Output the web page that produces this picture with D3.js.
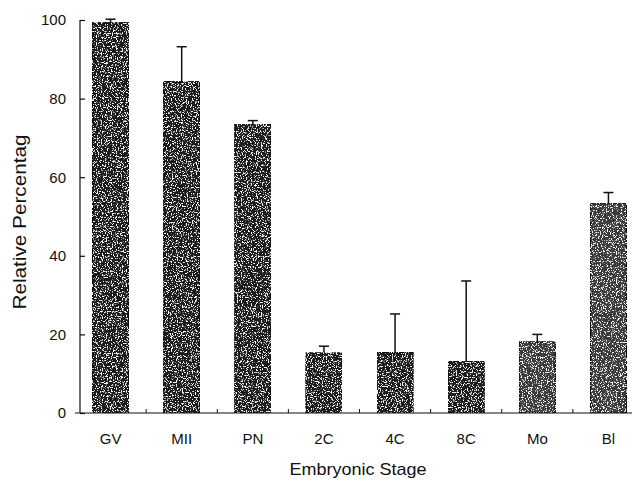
<!doctype html>
<html>
<head>
<meta charset="utf-8">
<script src="https://cdn.jsdelivr.net/npm/d3@7/dist/d3.min.js"></script>
<style>
body { margin: 0; background: #fff; }
text { font-family: "Liberation Sans", Arial, sans-serif; fill: #111; }
</style>
</head>
<body>
<script>
// values
var stages = ["GV", "MII", "PN", "2C", "4C", "8C", "Mo", "Bl"];
var means  = [99.3, 84.3, 73.5, 15.3, 15.4, 13.1, 18.1, 53.4];
var errs   = [0.9, 8.9, 0.9, 1.7, 9.8, 20.5, 1.9, 2.7];
var yTicks = [0, 20, 40, 60, 80, 100];

var width = 638, height = 482;

var svg = d3.select("body").append("svg")
    .attr("width", width)
    .attr("height", height);

// speckled print texture for the bars
var defs = svg.append("defs");
var f = defs.append("filter").attr("id", "speck")
    .attr("x", 0).attr("y", 0).attr("width", 1).attr("height", 1);
f.append("feTurbulence").attr("type", "fractalNoise")
    .attr("baseFrequency", 0.8).attr("numOctaves", 2).attr("seed", 3)
    .attr("result", "noise");
f.append("feColorMatrix").attr("in", "noise").attr("type", "matrix")
    .attr("values", "0 0 0 0 1  0 0 0 0 1  0 0 0 0 1  9 0 0 0 -5.0")
    .attr("result", "dots");
f.append("feComposite").attr("in", "dots").attr("in2", "SourceGraphic")
    .attr("operator", "atop");

// scales
var x = d3.scaleBand()
    .domain(stages)
    .range([75, 644])
    .paddingInner(0.494)
    .paddingOuter(0.247);

var y = d3.scaleLinear()
    .domain([0, 100])
    .range([413, 20]);

// error bars (upper only)
var eb = svg.append("g").attr("stroke", "#111").attr("stroke-width", 1.5);
stages.forEach(function(s, i) {
  var cx = x(s) + x.bandwidth() / 2;
  eb.append("line")
      .attr("x1", cx).attr("x2", cx)
      .attr("y1", y(means[i])).attr("y2", y(means[i] + errs[i]));
  eb.append("line")
      .attr("x1", cx - 5).attr("x2", cx + 5)
      .attr("y1", y(means[i] + errs[i])).attr("y2", y(means[i] + errs[i]));
});

// bars
svg.selectAll(".bar")
    .data(stages)
  .enter().append("rect")
    .attr("class", "bar")
    .attr("x", function(d) { return x(d); })
    .attr("y", function(d, i) { return y(means[i]); })
    .attr("width", x.bandwidth())
    .attr("height", function(d, i) { return y(0) - y(means[i]); })
    .attr("fill", function(d, i) { return i >= 6 ? "#3a3a3a" : "#1c1c1c"; })
    .attr("stroke", "#111")
    .attr("stroke-width", 1.2)
    .attr("filter", "url(#speck)");

// y axis
var yAxis = svg.append("g")
    .attr("transform", "translate(80,0)")
    .call(d3.axisRight(y).tickValues(yTicks).tickSize(5).tickFormat(d3.format("d")));
yAxis.select(".domain").attr("d", "M0," + y(0) + "V" + y(100));
yAxis.selectAll("line, path").attr("stroke", "#111").attr("stroke-width", 1.2);
yAxis.selectAll("text")
    .attr("x", -14)
    .attr("text-anchor", "end")
    .style("font-size", "15px");

// x axis line with small ticks between bars
var xAxis = svg.append("g");
xAxis.append("line")
    .attr("x1", 75).attr("x2", 632)
    .attr("y1", y(0)).attr("y2", y(0))
    .attr("stroke", "#111").attr("stroke-width", 1.2);
stages.slice(1).forEach(function(s) {
  var bx = x(s) - x.step() * x.paddingInner() / 2;
  xAxis.append("line")
      .attr("x1", bx).attr("x2", bx)
      .attr("y1", y(0)).attr("y2", y(0) - 4)
      .attr("stroke", "#111").attr("stroke-width", 1);
});
xAxis.selectAll(".lbl")
    .data(stages)
  .enter().append("text")
    .attr("class", "lbl")
    .attr("x", function(d) { return x(d) + x.bandwidth() / 2; })
    .attr("y", 444)
    .attr("text-anchor", "middle")
    .style("font-size", "15px")
    .text(function(d) { return d; });

// axis titles
svg.append("text")
    .attr("x", 358).attr("y", 475)
    .attr("text-anchor", "middle")
    .attr("textLength", 137)
    .attr("lengthAdjust", "spacingAndGlyphs")
    .style("font-size", "17px")
    .text("Embryonic Stage");

svg.append("text")
    .attr("transform", "translate(26,222) rotate(-90)")
    .attr("text-anchor", "middle")
    .attr("textLength", 175)
    .attr("lengthAdjust", "spacingAndGlyphs")
    .style("font-size", "18px")
    .text("Relative Percentag");
</script>
</body>
</html>
